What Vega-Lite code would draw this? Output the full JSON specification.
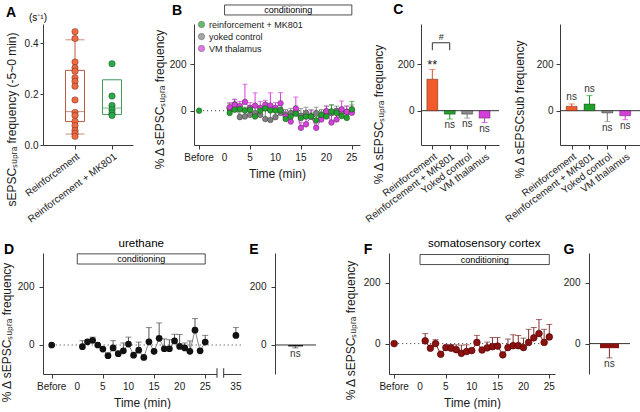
{
 "$schema": "https://vega.github.io/schema/vega-lite/v6.json",
 "background": "white",
 "padding": {"left": 0, "top": 3, "right": 0, "bottom": 0},
 "config": {
  "font": "Liberation Sans",
  "view": {"stroke": null},
  "axis": {"grid": false, "domainColor": "#3a3a3a", "tickColor": "#3a3a3a", "labelColor": "#1a1a1a", "titleColor": "#1a1a1a", "labelFontSize": 10, "titleFontSize": 12, "titleFontWeight": "normal", "tickSize": 4, "labelPadding": 4, "labelOverlap": false, "labelFont": "Liberation Sans", "titleFont": "Liberation Sans"},
  "text": {"font": "Liberation Sans"},
  "legend": {"labelFont": "Liberation Sans"}
 },
 "datasets": {
  "ticks25": [{"tk": 0}, {"tk": 5}, {"tk": 10}, {"tk": 15}, {"tk": 20}, {"tk": 25}],
  "ticks35": [{"tk": 0}, {"tk": 5}, {"tk": 10}, {"tk": 15}, {"tk": 20}, {"tk": 25}, {"tk": 35}],
  "a_pts": [
   {"g": "Reinforcement", "y": 0.445}, {"g": "Reinforcement", "y": 0.418}, {"g": "Reinforcement", "y": 0.326}, {"g": "Reinforcement", "y": 0.303},
   {"g": "Reinforcement", "y": 0.29}, {"g": "Reinforcement", "y": 0.264}, {"g": "Reinforcement", "y": 0.25}, {"g": "Reinforcement", "y": 0.231},
   {"g": "Reinforcement", "y": 0.177}, {"g": "Reinforcement", "y": 0.128}, {"g": "Reinforcement", "y": 0.116}, {"g": "Reinforcement", "y": 0.093},
   {"g": "Reinforcement", "y": 0.076}, {"g": "Reinforcement", "y": 0.057}, {"g": "Reinforcement", "y": 0.046}, {"g": "Reinforcement", "y": 0.034},
   {"g": "Reinforcement + MK801", "y": 0.319}, {"g": "Reinforcement + MK801", "y": 0.192}, {"g": "Reinforcement + MK801", "y": 0.155},
   {"g": "Reinforcement + MK801", "y": 0.138}, {"g": "Reinforcement + MK801", "y": 0.126}, {"g": "Reinforcement + MK801", "y": 0.116}
  ],
  "a_box": [
   {"g": "Reinforcement", "q1": 0.092, "med": 0.131, "q3": 0.293, "lo": 0.043, "hi": 0.413},
   {"g": "Reinforcement + MK801", "q1": 0.12, "med": 0.145, "q3": 0.256}
  ],
  "b_series": [
   {"s": "yoked control", "t": 1, "v": 10, "hi": 30}, {"s": "yoked control", "t": 2, "v": 28, "hi": 50}, {"s": "yoked control", "t": 3, "v": -28, "hi": -5},
   {"s": "yoked control", "t": 4, "v": -25, "hi": 0}, {"s": "yoked control", "t": 5, "v": -18, "hi": 5}, {"s": "yoked control", "t": 6, "v": -10, "hi": 15},
   {"s": "yoked control", "t": 7, "v": -18, "hi": 15}, {"s": "yoked control", "t": 8, "v": -36, "hi": 20}, {"s": "yoked control", "t": 9, "v": -40, "hi": 10},
   {"s": "yoked control", "t": 10, "v": -28, "hi": 10}, {"s": "yoked control", "t": 11, "v": -10, "hi": 15}, {"s": "yoked control", "t": 12, "v": -18, "hi": 5},
   {"s": "yoked control", "t": 13, "v": -10, "hi": 10}, {"s": "yoked control", "t": 14, "v": -3, "hi": 20}, {"s": "yoked control", "t": 15, "v": -22, "hi": 10},
   {"s": "yoked control", "t": 16, "v": -10, "hi": 15}, {"s": "yoked control", "t": 17, "v": -25, "hi": 5}, {"s": "yoked control", "t": 18, "v": -10, "hi": 15},
   {"s": "yoked control", "t": 19, "v": -22, "hi": 5}, {"s": "yoked control", "t": 20, "v": -3, "hi": 20}, {"s": "yoked control", "t": 21, "v": -10, "hi": 25},
   {"s": "yoked control", "t": 22, "v": -3, "hi": 20}, {"s": "yoked control", "t": 23, "v": -10, "hi": 15}, {"s": "yoked control", "t": 24, "v": -5, "hi": 20},
   {"s": "yoked control", "t": 25, "v": 0, "hi": 25},
   {"s": "VM thalamus", "t": 1, "v": 15, "hi": 35}, {"s": "VM thalamus", "t": 2, "v": 25, "hi": 48}, {"s": "VM thalamus", "t": 3, "v": 20, "hi": 40},
   {"s": "VM thalamus", "t": 4, "v": 38, "hi": 114}, {"s": "VM thalamus", "t": 5, "v": 12, "hi": 35}, {"s": "VM thalamus", "t": 6, "v": 22, "hi": 77},
   {"s": "VM thalamus", "t": 7, "v": 12, "hi": 40}, {"s": "VM thalamus", "t": 8, "v": 26, "hi": 45}, {"s": "VM thalamus", "t": 9, "v": 22, "hi": 77},
   {"s": "VM thalamus", "t": 10, "v": 12, "hi": 35}, {"s": "VM thalamus", "t": 11, "v": 32, "hi": 78}, {"s": "VM thalamus", "t": 12, "v": -25, "hi": -5},
   {"s": "VM thalamus", "t": 13, "v": -47, "hi": -20}, {"s": "VM thalamus", "t": 14, "v": 9, "hi": 59}, {"s": "VM thalamus", "t": 15, "v": -74, "hi": -50},
   {"s": "VM thalamus", "t": 16, "v": -59, "hi": -35}, {"s": "VM thalamus", "t": 17, "v": -25, "hi": 0}, {"s": "VM thalamus", "t": 18, "v": -74, "hi": -45},
   {"s": "VM thalamus", "t": 19, "v": -38, "hi": -10}, {"s": "VM thalamus", "t": 20, "v": -3, "hi": 20}, {"s": "VM thalamus", "t": 21, "v": -51, "hi": -20},
   {"s": "VM thalamus", "t": 22, "v": -38, "hi": 10}, {"s": "VM thalamus", "t": 23, "v": 6, "hi": 42}, {"s": "VM thalamus", "t": 24, "v": -5, "hi": 20},
   {"s": "VM thalamus", "t": 25, "v": -9, "hi": 15},
   {"s": "reinforcement + MK801", "t": 1, "v": -10, "hi": 5}, {"s": "reinforcement + MK801", "t": 2, "v": 4, "hi": 20}, {"s": "reinforcement + MK801", "t": 3, "v": 7, "hi": 20},
   {"s": "reinforcement + MK801", "t": 4, "v": 1, "hi": 15}, {"s": "reinforcement + MK801", "t": 5, "v": 4, "hi": 20}, {"s": "reinforcement + MK801", "t": 6, "v": -25, "hi": -10},
   {"s": "reinforcement + MK801", "t": 7, "v": 0, "hi": 15}, {"s": "reinforcement + MK801", "t": 8, "v": 10, "hi": 25}, {"s": "reinforcement + MK801", "t": 9, "v": 1, "hi": 15},
   {"s": "reinforcement + MK801", "t": 10, "v": 1, "hi": 15}, {"s": "reinforcement + MK801", "t": 11, "v": 1, "hi": 15}, {"s": "reinforcement + MK801", "t": 12, "v": -36, "hi": -20},
   {"s": "reinforcement + MK801", "t": 13, "v": -25, "hi": -10}, {"s": "reinforcement + MK801", "t": 14, "v": -13, "hi": 0}, {"s": "reinforcement + MK801", "t": 15, "v": -32, "hi": -15},
   {"s": "reinforcement + MK801", "t": 16, "v": -25, "hi": -10}, {"s": "reinforcement + MK801", "t": 17, "v": -25, "hi": -10}, {"s": "reinforcement + MK801", "t": 18, "v": -42, "hi": -25},
   {"s": "reinforcement + MK801", "t": 19, "v": -18, "hi": -5}, {"s": "reinforcement + MK801", "t": 20, "v": -25, "hi": -10}, {"s": "reinforcement + MK801", "t": 21, "v": -3, "hi": 25},
   {"s": "reinforcement + MK801", "t": 22, "v": -10, "hi": 10}, {"s": "reinforcement + MK801", "t": 23, "v": -23, "hi": -5}, {"s": "reinforcement + MK801", "t": 24, "v": -31, "hi": -10},
   {"s": "reinforcement + MK801", "t": 25, "v": 6, "hi": 40}
  ],
  "b_before": [{"s": "reinforcement + MK801", "t": -5, "v": 0}],
  "c1": [
   {"g": "Reinforcement", "v": 136, "e": 178, "sig": "**"},
   {"g": "Reinforcement + MK801", "v": -15, "e": -36, "sig": "ns"},
   {"g": "Yoked control", "v": -15, "e": -32, "sig": "ns"},
   {"g": "VM thalamus", "v": -32, "e": -51, "sig": "ns"}
  ],
  "c2": [
   {"g": "Reinforcement", "v": 19, "e": 29, "sig": "ns"},
   {"g": "Reinforcement + MK801", "v": 29, "e": 65, "sig": "ns"},
   {"g": "Yoked control", "v": -10, "e": -47, "sig": "ns"},
   {"g": "VM thalamus", "v": -22, "e": -39, "sig": "ns"}
  ],
  "d": [
   {"t": -5, "v": 0}, {"t": 1, "v": -6, "hi": 15}, {"t": 2, "v": 11}, {"t": 3, "v": 16, "hi": 27}, {"t": 4, "v": 0}, {"t": 5, "v": -14},
   {"t": 6, "v": -37}, {"t": 7, "v": -10, "hi": 15}, {"t": 8, "v": -30}, {"t": 9, "v": -20, "hi": 7}, {"t": 10, "v": 3, "hi": 27},
   {"t": 11, "v": -35}, {"t": 12, "v": -18, "hi": 10}, {"t": 13, "v": -43}, {"t": 14, "v": 11, "hi": 60}, {"t": 15, "v": -22},
   {"t": 16, "v": 23, "hi": 76}, {"t": 17, "v": -13, "hi": 21}, {"t": 18, "v": -13, "hi": 18}, {"t": 19, "v": 14, "hi": 37},
   {"t": 20, "v": -5, "hi": 36}, {"t": 21, "v": -10, "hi": 7}, {"t": 22, "v": -22, "hi": 14}, {"t": 23, "v": 51, "hi": 91},
   {"t": 24, "v": -20}, {"t": 25, "v": 10, "hi": 33}, {"t": 35, "v": 33, "hi": 60}
  ],
  "e": [{"g": "urethane", "v": -5, "lo": -10, "sig": "ns"}],
  "f": [
   {"t": -5, "v": 0}, {"t": 1, "v": 9, "hi": 33}, {"t": 2, "v": -15}, {"t": 3, "v": 0, "hi": 13}, {"t": 4, "v": -35}, {"t": 5, "v": -13},
   {"t": 6, "v": -15, "hi": -3}, {"t": 7, "v": -20, "hi": -4}, {"t": 8, "v": -32, "hi": -5}, {"t": 9, "v": -26, "hi": -4}, {"t": 10, "v": -23},
   {"t": 11, "v": 4, "hi": 27}, {"t": 12, "v": -21}, {"t": 13, "v": -14, "hi": 5}, {"t": 14, "v": -10, "hi": 20}, {"t": 15, "v": -8, "hi": 20},
   {"t": 16, "v": -37}, {"t": 17, "v": -13, "hi": 15}, {"t": 18, "v": -7, "hi": 29}, {"t": 19, "v": -7, "hi": 27}, {"t": 20, "v": -13, "hi": 18},
   {"t": 21, "v": 4, "hi": 47}, {"t": 22, "v": 19, "hi": 53}, {"t": 23, "v": 33, "hi": 79}, {"t": 24, "v": 4, "hi": 47}, {"t": 25, "v": 22, "hi": 63}
  ],
  "g": [{"g": "somatosensory cortex", "v": -15, "lo": -47, "sig": "ns"}]
 },
 "spacing": 12,
 "resolve": {"scale": {"color": "independent", "fill": "independent", "stroke": "independent"}, "legend": {"color": "independent", "fill": "independent", "stroke": "independent"}},
 "vconcat": [
  {
   "bounds": "flush",
   "spacing": 61,
   "resolve": {"scale": {"color": "independent", "fill": "independent", "stroke": "independent"}, "legend": {"color": "independent", "fill": "independent", "stroke": "independent"}},
   "hconcat": [
    {
     "width": 90, "height": 121,
     "layer": [
      {
       "data": {"name": "a_box"},
       "transform": [{"filter": "isValid(datum.lo)"}],
       "mark": {"type": "rule", "strokeWidth": 1},
       "encoding": {
        "x": {"field": "g", "type": "nominal", "scale": {"type": "point", "domain": ["Reinforcement", "Reinforcement + MK801"], "padding": 0.716, "align": 0.604}, "axis": {"title": null, "labelAngle": -37, "tickSize": 4, "labelPadding": 2}},
        "y": {"field": "lo", "type": "quantitative", "scale": {"domain": [0, 0.475], "nice": false, "zero": false}, "axis": {"values": [0, 0.2, 0.4], "format": ".1f", "title": "sEPSCₛᵤₚᵣₐ frequency (-5~0 min)", "tickSize": 3, "labelPadding": 2, "titlePadding": 6, "titleY": 95}},
        "y2": {"field": "q1"},
        "color": {"field": "g", "type": "nominal", "scale": {"domain": ["Reinforcement", "Reinforcement + MK801"], "range": ["#B85A44", "#3F9A5C"]}, "legend": null}
       }
      },
      {
       "data": {"name": "a_box"},
       "transform": [{"filter": "isValid(datum.hi)"}],
       "mark": {"type": "rule", "strokeWidth": 1},
       "encoding": {"x": {"field": "g", "type": "nominal"}, "y": {"field": "q3", "type": "quantitative"}, "y2": {"field": "hi"}, "color": {"field": "g", "type": "nominal", "legend": null}}
      },
      {
       "data": {"name": "a_box"},
       "transform": [{"filter": "isValid(datum.lo)"}],
       "mark": {"type": "tick", "orient": "horizontal", "size": 19, "thickness": 1},
       "encoding": {"x": {"field": "g", "type": "nominal"}, "y": {"field": "lo", "type": "quantitative"}, "color": {"field": "g", "type": "nominal", "legend": null}}
      },
      {
       "data": {"name": "a_box"},
       "transform": [{"filter": "isValid(datum.hi)"}],
       "mark": {"type": "tick", "orient": "horizontal", "size": 19, "thickness": 1},
       "encoding": {"x": {"field": "g", "type": "nominal"}, "y": {"field": "hi", "type": "quantitative"}, "color": {"field": "g", "type": "nominal", "legend": null}}
      },
      {
       "data": {"name": "a_box"},
       "mark": {"type": "bar", "size": 19, "filled": false, "strokeWidth": 1},
       "encoding": {"x": {"field": "g", "type": "nominal"}, "y": {"field": "q1", "type": "quantitative"}, "y2": {"field": "q3"}, "color": {"field": "g", "type": "nominal", "legend": null}}
      },
      {
       "data": {"name": "a_box"},
       "mark": {"type": "tick", "orient": "horizontal", "size": 19, "thickness": 1},
       "encoding": {"x": {"field": "g", "type": "nominal"}, "y": {"field": "med", "type": "quantitative"}, "color": {"field": "g", "type": "nominal", "legend": null}}
      },
      {
       "data": {"name": "a_pts"},
       "mark": {"type": "circle", "size": 42, "opacity": 1, "stroke": "#000", "strokeOpacity": 0.35, "strokeWidth": 0.8},
       "encoding": {"x": {"field": "g", "type": "nominal"}, "y": {"field": "y", "type": "quantitative"}, "fill": {"field": "g", "type": "nominal", "scale": {"domain": ["Reinforcement + MK801", "Reinforcement"], "range": ["#2BA84A", "#EE6A40"]}, "legend": null}}
      },
      {
       "data": {"values": [{}]},
       "mark": {"type": "text", "text": "(s⁻¹)", "fontSize": 10, "dx": -37, "baseline": "middle"},
       "encoding": {"x": {"datum": "Reinforcement", "type": "nominal"}, "y": {"datum": 0.5, "type": "quantitative"}}
      },
      {
       "data": {"values": [{}]},
       "mark": {"type": "text", "text": "A", "fontSize": 14, "fontWeight": "bold", "dx": -64, "baseline": "alphabetic"},
       "encoding": {"x": {"datum": "Reinforcement", "type": "nominal"}, "y": {"datum": 0.503, "type": "quantitative"}}
      }
     ]
    },
    {
     "width": 166, "height": 121,
     "layer": [
      {
       "data": {"values": [{}]},
       "mark": {"type": "rect", "fill": "white", "stroke": "#222", "strokeWidth": 0.8},
       "encoding": {
        "x": {"datum": 0, "type": "quantitative", "scale": {"domain": [-6, 26.6], "nice": false, "zero": false}, "axis": {"values": [-5, 0, 5, 10, 15, 20, 25], "labels": false, "title": "Time (min)", "titlePadding": 19}},
        "x2": {"datum": 25},
        "y": {"datum": 413, "type": "quantitative", "scale": {"domain": [-148, 374], "nice": false, "zero": false}, "axis": {"values": [0, 200], "title": "% Δ sEPSCₛᵤₚᵣₐ frequency", "labelPadding": 4, "titlePadding": 3, "titleY": 75}},
        "y2": {"datum": 456}
       }
      },
      {
       "data": {"values": [{}]},
       "mark": {"type": "text", "text": "conditioning", "fontSize": 9, "baseline": "middle"},
       "encoding": {"x": {"datum": 12.5, "type": "quantitative"}, "y": {"datum": 434, "type": "quantitative"}}
      },
      {
       "data": {"values": [{}]},
       "mark": {"type": "text", "text": "Before", "fontSize": 10, "baseline": "top", "dy": 8, "color": "#1a1a1a"},
       "encoding": {"x": {"datum": -5, "type": "quantitative"}, "y": {"datum": -148, "type": "quantitative"}}
      },
      {
       "data": {"name": "ticks25"},
       "mark": {"type": "text", "fontSize": 10, "baseline": "top", "dy": 8, "color": "#1a1a1a"},
       "encoding": {"x": {"field": "tk", "type": "quantitative"}, "y": {"datum": -148, "type": "quantitative"}, "text": {"field": "tk", "type": "quantitative"}}
      },
      {
       "data": {"values": [{}]},
       "mark": {"type": "text", "text": "B", "fontSize": 14, "fontWeight": "bold", "dx": -17, "baseline": "alphabetic"},
       "encoding": {"x": {"datum": -6, "type": "quantitative"}, "y": {"datum": 413, "type": "quantitative"}}
      },
      {
       "data": {"values": [{}]},
       "mark": {"type": "rule", "strokeDash": [1, 3], "color": "#333"},
       "encoding": {"x": {"datum": -5, "type": "quantitative"}, "x2": {"datum": 25}, "y": {"datum": 0, "type": "quantitative"}}
      },
      {
       "data": {"name": "b_series"},
       "mark": {"type": "line", "strokeWidth": 1},
       "encoding": {
        "x": {"field": "t", "type": "quantitative"}, "y": {"field": "v", "type": "quantitative"},
        "stroke": {"field": "s", "type": "nominal", "scale": {"domain": ["VM thalamus", "yoked control", "reinforcement + MK801"], "range": ["#D63FDB", "#7F7F7F", "#20A12B"]}, "legend": null}
       }
      },
      {
       "data": {"name": "b_series"},
       "mark": {"type": "rule", "strokeWidth": 1},
       "encoding": {"x": {"field": "t", "type": "quantitative"}, "y": {"field": "v", "type": "quantitative"}, "y2": {"field": "hi"}, "stroke": {"field": "s", "type": "nominal", "legend": null}}
      },
      {
       "data": {"name": "b_series"},
       "mark": {"type": "tick", "orient": "horizontal", "size": 5, "thickness": 1},
       "encoding": {"x": {"field": "t", "type": "quantitative"}, "y": {"field": "hi", "type": "quantitative"}, "fill": {"field": "s", "type": "nominal"}}
      },
      {
       "data": {"name": "b_before"},
       "mark": {"type": "circle", "size": 32, "opacity": 1, "stroke": "#222", "strokeOpacity": 0.6, "strokeWidth": 0.6},
       "encoding": {"x": {"field": "t", "type": "quantitative"}, "y": {"field": "v", "type": "quantitative"}, "fill": {"field": "s", "type": "nominal"}}
      },
      {
       "data": {"name": "b_series"},
       "mark": {"type": "circle", "size": 32, "opacity": 1, "stroke": "#222", "strokeOpacity": 0.6, "strokeWidth": 0.6},
       "encoding": {
        "x": {"field": "t", "type": "quantitative"}, "y": {"field": "v", "type": "quantitative"},
        "fill": {"field": "s", "type": "nominal", "scale": {"domain": ["reinforcement + MK801", "yoked control", "VM thalamus"], "range": ["#20A12B", "#7F7F7F", "#D63FDB"]},
         "legend": {"orient": "none", "legendX": 3, "legendY": -4, "padding": 0, "title": null, "labelFontSize": 9, "symbolType": "circle", "symbolSize": 40, "symbolOpacity": 1, "symbolStrokeColor": "#333", "symbolStrokeWidth": 0.6, "rowPadding": 2, "labelOffset": 3, "labelColor": "#1a1a1a"}}
       }
      }
     ]
    },
    {
     "width": 78, "height": 121,
     "data": {"name": "c1"},
     "layer": [
      {
       "data": {"values": [{}]},
       "mark": {"type": "rule", "color": "#333"},
       "encoding": {"y": {"datum": 0, "type": "quantitative", "scale": {"domain": [-148, 374], "nice": false, "zero": false}, "axis": {"values": [0, 200], "title": "% Δ sEPSCₛᵤₚᵣₐ frequency", "labelPadding": 3, "titlePadding": 12, "titleY": 90}}}
      },
      {
       "mark": {"type": "rule", "strokeWidth": 1},
       "encoding": {
        "x": {"field": "g", "type": "nominal", "scale": {"type": "point", "domain": ["Reinforcement", "Reinforcement + MK801", "Yoked control", "VM thalamus"], "padding": 0.74, "align": 0.44}, "axis": {"title": null, "labelAngle": -37, "tickSize": 4, "labelPadding": 2}},
        "y": {"field": "v", "type": "quantitative"}, "y2": {"field": "e"},
        "stroke": {"field": "g", "type": "nominal", "scale": {"domain": ["Reinforcement", "Reinforcement + MK801", "Yoked control", "VM thalamus"], "range": ["#E0501F", "#1F8F27", "#7A7A7A", "#C43ACC"]}, "legend": null}
       }
      },
      {
       "mark": {"type": "tick", "orient": "horizontal", "size": 6, "thickness": 1},
       "encoding": {"x": {"field": "g", "type": "nominal"}, "y": {"field": "e", "type": "quantitative"}, "fill": {"field": "g", "type": "nominal", "scale": {"domain": ["Reinforcement", "Reinforcement + MK801", "Yoked control", "VM thalamus"], "range": ["#F25A29", "#22A02A", "#8A8A8A", "#D43FDC"]}, "legend": null}}
      },
      {
       "mark": {"type": "bar", "size": 11, "stroke": "#000", "strokeOpacity": 0.4, "strokeWidth": 0.8},
       "encoding": {"x": {"field": "g", "type": "nominal"}, "y": {"field": "v", "type": "quantitative"}, "y2": {"datum": 0}, "fill": {"field": "g", "type": "nominal", "legend": null}}
      },
      {
       "transform": [{"filter": "datum.sig == '**'"}],
       "mark": {"type": "text", "baseline": "bottom", "dy": 3, "fontSize": 13, "color": "#222"},
       "encoding": {"x": {"field": "g", "type": "nominal"}, "y": {"field": "e", "type": "quantitative"}, "text": {"field": "sig"}}
      },
      {
       "transform": [{"filter": "datum.v < 0"}],
       "mark": {"type": "text", "baseline": "top", "dy": 1, "fontSize": 10, "color": "#333"},
       "encoding": {"x": {"field": "g", "type": "nominal"}, "y": {"field": "e", "type": "quantitative"}, "text": {"field": "sig"}}
      },
      {
       "data": {"values": [{}]},
       "mark": {"type": "rule", "color": "#333"},
       "encoding": {"x": {"datum": "Reinforcement", "type": "nominal"}, "x2": {"datum": "Reinforcement + MK801"}, "y": {"datum": 293, "type": "quantitative"}}
      },
      {
       "data": {"values": [{"g": "Reinforcement"}, {"g": "Reinforcement + MK801"}]},
       "mark": {"type": "rule", "color": "#333"},
       "encoding": {"x": {"field": "g", "type": "nominal"}, "y": {"datum": 261, "type": "quantitative"}, "y2": {"datum": 293}}
      },
      {
       "data": {"values": [{}]},
       "mark": {"type": "text", "text": "#", "fontSize": 9, "dx": 9, "baseline": "middle", "color": "#222"},
       "encoding": {"x": {"datum": "Reinforcement", "type": "nominal"}, "y": {"datum": 320, "type": "quantitative"}}
      },
      {
       "data": {"values": [{}]},
       "mark": {"type": "text", "text": "C", "fontSize": 14, "fontWeight": "bold", "dx": -34, "baseline": "alphabetic"},
       "encoding": {"x": {"datum": "Reinforcement", "type": "nominal"}, "y": {"datum": 417, "type": "quantitative"}}
      }
     ]
    },
    {
     "width": 80, "height": 121,
     "data": {"name": "c2"},
     "layer": [
      {
       "data": {"values": [{}]},
       "mark": {"type": "rule", "color": "#333"},
       "encoding": {"y": {"datum": 0, "type": "quantitative", "scale": {"domain": [-148, 374], "nice": false, "zero": false}, "axis": {"values": [0, 200], "title": "% Δ sEPSCsub frequency", "labelPadding": 3, "titlePadding": 10, "titleY": 85}}}
      },
      {
       "mark": {"type": "rule", "strokeWidth": 1},
       "encoding": {
        "x": {"field": "g", "type": "nominal", "scale": {"type": "point", "domain": ["Reinforcement", "Reinforcement + MK801", "Yoked control", "VM thalamus"], "padding": 0.74, "align": 0.44}, "axis": {"title": null, "labelAngle": -37, "tickSize": 4, "labelPadding": 2}},
        "y": {"field": "v", "type": "quantitative"}, "y2": {"field": "e"},
        "stroke": {"field": "g", "type": "nominal", "scale": {"domain": ["Reinforcement", "Reinforcement + MK801", "Yoked control", "VM thalamus"], "range": ["#E0501F", "#1F8F27", "#7A7A7A", "#C43ACC"]}, "legend": null}
       }
      },
      {
       "mark": {"type": "tick", "orient": "horizontal", "size": 6, "thickness": 1},
       "encoding": {"x": {"field": "g", "type": "nominal"}, "y": {"field": "e", "type": "quantitative"}, "fill": {"field": "g", "type": "nominal", "scale": {"domain": ["Reinforcement", "Reinforcement + MK801", "Yoked control", "VM thalamus"], "range": ["#F25A29", "#22A02A", "#8A8A8A", "#D43FDC"]}, "legend": null}}
      },
      {
       "mark": {"type": "bar", "size": 11, "stroke": "#000", "strokeOpacity": 0.4, "strokeWidth": 0.8},
       "encoding": {"x": {"field": "g", "type": "nominal"}, "y": {"field": "v", "type": "quantitative"}, "y2": {"datum": 0}, "fill": {"field": "g", "type": "nominal", "legend": null}}
      },
      {
       "transform": [{"filter": "datum.v > 0"}],
       "mark": {"type": "text", "baseline": "bottom", "dy": -2, "fontSize": 10, "color": "#333"},
       "encoding": {"x": {"field": "g", "type": "nominal"}, "y": {"field": "e", "type": "quantitative"}, "text": {"field": "sig"}}
      },
      {
       "transform": [{"filter": "datum.v < 0"}],
       "mark": {"type": "text", "baseline": "top", "dy": 1, "fontSize": 10, "color": "#333"},
       "encoding": {"x": {"field": "g", "type": "nominal"}, "y": {"field": "e", "type": "quantitative"}, "text": {"field": "sig"}}
      }
     ]
    }
   ]
  },
  {
   "bounds": "flush",
   "spacing": 34,
   "resolve": {"scale": {"color": "independent", "fill": "independent", "stroke": "independent"}, "legend": {"color": "independent", "fill": "independent", "stroke": "independent"}},
   "hconcat": [
    {
     "width": 198, "height": 121,
     "layer": [
      {
       "data": {"values": [{}]},
       "mark": {"type": "rect", "fill": "white", "stroke": "#222", "strokeWidth": 0.8},
       "encoding": {
        "x": {"datum": 0, "type": "quantitative", "scale": {"domain": [-6.7, 27.3, 32.6, 36], "range": [0, 174, 180.7, 198], "nice": false, "zero": false}, "axis": {"values": [-5, 0, 5, 10, 15, 20, 25, 35], "labels": false, "title": "Time (min)", "titlePadding": 19}},
        "x2": {"datum": 25},
        "y": {"datum": 279, "type": "quantitative", "scale": {"domain": [-100, 317], "nice": false, "zero": false}, "axis": {"values": [0, 200], "title": "% Δ sEPSCₛᵤₚᵣₐ frequency", "labelPadding": 5, "titlePadding": 4, "titleY": 79}},
        "y2": {"datum": 314}
       }
      },
      {
       "data": {"values": [{}]},
       "mark": {"type": "text", "text": "conditioning", "fontSize": 9, "baseline": "middle"},
       "encoding": {"x": {"datum": 12.5, "type": "quantitative"}, "y": {"datum": 296.5, "type": "quantitative"}}
      },
      {
       "data": {"values": [{}]},
       "mark": {"type": "text", "text": "Before", "fontSize": 10, "baseline": "top", "dy": 8, "color": "#1a1a1a"},
       "encoding": {"x": {"datum": -5, "type": "quantitative"}, "y": {"datum": -100, "type": "quantitative"}}
      },
      {
       "data": {"name": "ticks35"},
       "mark": {"type": "text", "fontSize": 10, "baseline": "top", "dy": 8, "color": "#1a1a1a"},
       "encoding": {"x": {"field": "tk", "type": "quantitative"}, "y": {"datum": -100, "type": "quantitative"}, "text": {"field": "tk", "type": "quantitative"}}
      },
      {
       "data": {"values": [{}]},
       "mark": {"type": "text", "text": "urethane", "fontSize": 11.5, "baseline": "middle"},
       "encoding": {"x": {"datum": 12.5, "type": "quantitative"}, "y": {"datum": 349, "type": "quantitative"}}
      },
      {
       "data": {"values": [{}]},
       "mark": {"type": "text", "text": "D", "fontSize": 14, "fontWeight": "bold", "dx": -34, "baseline": "alphabetic"},
       "encoding": {"x": {"datum": -6.7, "type": "quantitative"}, "y": {"datum": 313.5, "type": "quantitative"}}
      },
      {
       "data": {"values": [{}]},
       "mark": {"type": "rule", "strokeDash": [1, 3], "color": "#333"},
       "encoding": {"x": {"datum": -5, "type": "quantitative"}, "x2": {"datum": 36}, "y": {"datum": 0, "type": "quantitative"}}
      },
      {
       "data": {"values": [{}]},
       "mark": {"type": "rect", "fill": "white"},
       "encoding": {"x": {"datum": 27.3, "type": "quantitative"}, "x2": {"datum": 32.6}, "y": {"datum": -106, "type": "quantitative"}, "y2": {"datum": -94}}
      },
      {
       "data": {"values": [{}]},
       "mark": {"type": "rule", "color": "#333"},
       "encoding": {"x": {"datum": 27.3, "type": "quantitative"}, "y": {"datum": -113, "type": "quantitative"}, "y2": {"datum": -80}}
      },
      {
       "data": {"values": [{}]},
       "mark": {"type": "rule", "color": "#333"},
       "encoding": {"x": {"datum": 32.6, "type": "quantitative"}, "y": {"datum": -113, "type": "quantitative"}, "y2": {"datum": -80}}
      },
      {
       "data": {"name": "d"},
       "transform": [{"filter": "datum.t >= 1 && datum.t <= 25"}],
       "mark": {"type": "line", "strokeWidth": 1, "color": "#8a8a8a"},
       "encoding": {"x": {"field": "t", "type": "quantitative"}, "y": {"field": "v", "type": "quantitative"}}
      },
      {
       "data": {"name": "d"},
       "transform": [{"filter": "isValid(datum.hi)"}],
       "mark": {"type": "rule", "strokeWidth": 1, "color": "#555"},
       "encoding": {"x": {"field": "t", "type": "quantitative"}, "y": {"field": "v", "type": "quantitative"}, "y2": {"field": "hi"}}
      },
      {
       "data": {"name": "d"},
       "transform": [{"filter": "isValid(datum.hi)"}],
       "mark": {"type": "tick", "orient": "horizontal", "size": 6, "thickness": 1, "color": "#555"},
       "encoding": {"x": {"field": "t", "type": "quantitative"}, "y": {"field": "hi", "type": "quantitative"}}
      },
      {
       "data": {"name": "d"},
       "mark": {"type": "circle", "size": 45, "opacity": 1, "color": "#111"},
       "encoding": {"x": {"field": "t", "type": "quantitative"}, "y": {"field": "v", "type": "quantitative"}}
      }
     ]
    },
    {
     "width": 80, "height": 121,
     "data": {"name": "e"},
     "layer": [
      {
       "data": {"values": [{}]},
       "mark": {"type": "rule", "color": "#333"},
       "encoding": {
        "x": {"datum": 0, "type": "quantitative", "scale": {"domain": [0, 2], "nice": false, "zero": false}, "axis": null},
        "x2": {"datum": 1.025},
        "y": {"datum": 0, "type": "quantitative", "scale": {"domain": [-100, 317], "nice": false, "zero": false}, "axis": {"values": [0, 200], "title": null, "labelPadding": 5}}
       }
      },
      {
       "mark": {"type": "rule", "color": "#444"},
       "encoding": {"x": {"datum": 0.51, "type": "quantitative"}, "y": {"field": "v", "type": "quantitative"}, "y2": {"field": "lo"}}
      },
      {
       "mark": {"type": "tick", "orient": "horizontal", "size": 6, "thickness": 1, "color": "#444"},
       "encoding": {"x": {"datum": 0.51, "type": "quantitative"}, "y": {"field": "lo", "type": "quantitative"}}
      },
      {
       "mark": {"type": "bar", "color": "#1a1a1a"},
       "encoding": {"x": {"datum": 0.33, "type": "quantitative"}, "x2": {"datum": 0.7}, "y": {"field": "v", "type": "quantitative"}, "y2": {"datum": 0}}
      },
      {
       "mark": {"type": "text", "baseline": "top", "dy": 1, "fontSize": 10, "color": "#333"},
       "encoding": {"x": {"datum": 0.51, "type": "quantitative"}, "y": {"field": "lo", "type": "quantitative"}, "text": {"field": "sig"}}
      },
      {
       "data": {"values": [{}]},
       "mark": {"type": "text", "text": "E", "fontSize": 14, "fontWeight": "bold", "dx": -21, "baseline": "alphabetic"},
       "encoding": {"x": {"datum": 0, "type": "quantitative"}, "y": {"datum": 313.5, "type": "quantitative"}}
      }
     ]
    },
    {
     "width": 166, "height": 121,
     "layer": [
      {
       "data": {"values": [{}]},
       "mark": {"type": "rect", "fill": "white", "stroke": "#222", "strokeWidth": 0.8},
       "encoding": {
        "x": {"datum": 0, "type": "quantitative", "scale": {"domain": [-6, 26.1], "nice": false, "zero": false}, "axis": {"values": [-5, 0, 5, 10, 15, 20, 25], "labels": false, "title": "Time (min)", "titlePadding": 19}},
        "x2": {"datum": 25},
        "y": {"datum": 260, "type": "quantitative", "scale": {"domain": [-100, 298], "nice": false, "zero": false}, "axis": {"values": [0, 200], "title": "% Δ sEPSCₛᵤₚᵣₐ frequency", "labelPadding": 5, "titlePadding": 6, "titleY": 77}},
        "y2": {"datum": 293}
       }
      },
      {
       "data": {"values": [{}]},
       "mark": {"type": "text", "text": "conditioning", "fontSize": 9, "baseline": "middle"},
       "encoding": {"x": {"datum": 12.5, "type": "quantitative"}, "y": {"datum": 276.5, "type": "quantitative"}}
      },
      {
       "data": {"values": [{}]},
       "mark": {"type": "text", "text": "Before", "fontSize": 10, "baseline": "top", "dy": 8, "color": "#1a1a1a"},
       "encoding": {"x": {"datum": -5, "type": "quantitative"}, "y": {"datum": -100, "type": "quantitative"}}
      },
      {
       "data": {"name": "ticks25"},
       "mark": {"type": "text", "fontSize": 10, "baseline": "top", "dy": 8, "color": "#1a1a1a"},
       "encoding": {"x": {"field": "tk", "type": "quantitative"}, "y": {"datum": -100, "type": "quantitative"}, "text": {"field": "tk", "type": "quantitative"}}
      },
      {
       "data": {"values": [{}]},
       "mark": {"type": "text", "text": "somatosensory cortex", "fontSize": 11.5, "baseline": "middle"},
       "encoding": {"x": {"datum": 12.4, "type": "quantitative"}, "y": {"datum": 327.5, "type": "quantitative"}}
      },
      {
       "data": {"values": [{}]},
       "mark": {"type": "text", "text": "F", "fontSize": 14, "fontWeight": "bold", "dx": -21, "baseline": "alphabetic"},
       "encoding": {"x": {"datum": -6, "type": "quantitative"}, "y": {"datum": 294.7, "type": "quantitative"}}
      },
      {
       "data": {"values": [{}]},
       "mark": {"type": "rule", "strokeDash": [1, 3], "color": "#333"},
       "encoding": {"x": {"datum": -5, "type": "quantitative"}, "x2": {"datum": 25}, "y": {"datum": 0, "type": "quantitative"}}
      },
      {
       "data": {"name": "f"},
       "transform": [{"filter": "datum.t >= 1"}],
       "mark": {"type": "line", "strokeWidth": 1, "color": "#8C1A1A"},
       "encoding": {"x": {"field": "t", "type": "quantitative"}, "y": {"field": "v", "type": "quantitative"}}
      },
      {
       "data": {"name": "f"},
       "transform": [{"filter": "isValid(datum.hi)"}],
       "mark": {"type": "rule", "strokeWidth": 1, "color": "#7D2B2B"},
       "encoding": {"x": {"field": "t", "type": "quantitative"}, "y": {"field": "v", "type": "quantitative"}, "y2": {"field": "hi"}}
      },
      {
       "data": {"name": "f"},
       "transform": [{"filter": "isValid(datum.hi)"}],
       "mark": {"type": "tick", "orient": "horizontal", "size": 6, "thickness": 1, "color": "#7D2B2B"},
       "encoding": {"x": {"field": "t", "type": "quantitative"}, "y": {"field": "hi", "type": "quantitative"}}
      },
      {
       "data": {"name": "f"},
       "mark": {"type": "circle", "size": 45, "opacity": 1, "fill": "#8C1111", "stroke": "#4a0000", "strokeWidth": 0.6},
       "encoding": {"x": {"field": "t", "type": "quantitative"}, "y": {"field": "v", "type": "quantitative"}}
      }
     ]
    },
    {
     "width": 41, "height": 121,
     "data": {"name": "g"},
     "layer": [
      {
       "data": {"values": [{}]},
       "mark": {"type": "rule", "color": "#333"},
       "encoding": {
        "x": {"datum": 0, "type": "quantitative", "scale": {"domain": [0, 1.025], "nice": false, "zero": false}, "axis": null},
        "x2": {"datum": 1.025},
        "y": {"datum": 0, "type": "quantitative", "scale": {"domain": [-100, 298], "nice": false, "zero": false}, "axis": {"values": [0, 200], "title": null, "labelPadding": 5}}
       }
      },
      {
       "mark": {"type": "rule", "color": "#7D2B2B"},
       "encoding": {"x": {"datum": 0.51, "type": "quantitative"}, "y": {"field": "v", "type": "quantitative"}, "y2": {"field": "lo"}}
      },
      {
       "mark": {"type": "tick", "orient": "horizontal", "size": 6, "thickness": 1, "color": "#7D2B2B"},
       "encoding": {"x": {"datum": 0.51, "type": "quantitative"}, "y": {"field": "lo", "type": "quantitative"}}
      },
      {
       "mark": {"type": "bar", "color": "#8C1111"},
       "encoding": {"x": {"datum": 0.275, "type": "quantitative"}, "x2": {"datum": 0.75}, "y": {"field": "v", "type": "quantitative"}, "y2": {"datum": 0}}
      },
      {
       "mark": {"type": "text", "baseline": "top", "dy": 1, "fontSize": 10, "color": "#333"},
       "encoding": {"x": {"datum": 0.51, "type": "quantitative"}, "y": {"field": "lo", "type": "quantitative"}, "text": {"field": "sig"}}
      },
      {
       "data": {"values": [{}]},
       "mark": {"type": "text", "text": "G", "fontSize": 14, "fontWeight": "bold", "dx": -20, "baseline": "alphabetic"},
       "encoding": {"x": {"datum": 0, "type": "quantitative"}, "y": {"datum": 294.7, "type": "quantitative"}}
      }
     ]
    }
   ]
  }
 ]
}
